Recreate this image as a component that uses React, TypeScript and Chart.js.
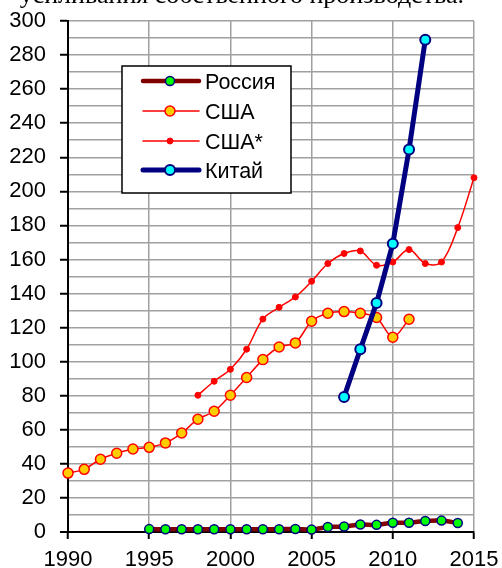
import React, { useEffect, useRef } from "react";
import { Chart, registerables } from "chart.js";

Chart.register(...registerables);

const russiaYears = [1995, 1996, 1997, 1998, 1999, 2000, 2001, 2002, 2003, 2004, 2005, 2006, 2007, 2008, 2009, 2010, 2011, 2012, 2013, 2014];
const russiaValues = [1.7, 1.6, 1.6, 1.6, 1.6, 1.6, 1.6, 1.6, 1.6, 1.8, 1.4, 3.0, 3.2, 4.4, 4.2, 5.4, 5.4, 6.5, 6.7, 5.3];

const usaYears = [1990, 1991, 1992, 1993, 1994, 1995, 1996, 1997, 1998, 1999, 2000, 2001, 2002, 2003, 2004, 2005, 2006, 2007, 2008, 2009, 2010, 2011];
const usaValues = [34.6, 36.8, 42.7, 46.2, 48.7, 49.7, 52.3, 58.1, 66.2, 70.9, 80.3, 90.7, 101.2, 108.6, 111, 123.7, 128.4, 129.4, 128.4, 125.9, 114.3, 124.9];

const usaStarYears = [1998, 1999, 2000, 2001, 2002, 2003, 2004, 2005, 2006, 2007, 2008, 2009, 2010, 2011, 2012, 2013, 2014, 2015];
const usaStarValues = [80.3, 88.5, 95.5, 107.3, 125, 131.9, 138, 147.2, 157.6, 163.5, 165, 156.6, 158.5, 165.8, 157.6, 158.5, 178.7, 208];

const chinaYears = [2007, 2008, 2009, 2010, 2011, 2012];
const chinaValues = [79.3, 107.3, 134.5, 169.3, 224.5, 289];

const seriesLabels = ["Россия", "США", "США*", "Китай"];
const xTickStep = 5;
const yTickStep = 10;
const yLabelStep = 20;

const titleText = "усиливания собственного производства.";

const FONT = "'Liberation Sans', Arial, sans-serif";

const toPoints = (xs: number[], ys: number[]) => xs.map((x, i) => ({ x, y: ys[i] }));

const legendPlugin = {
  id: "boxLegend",
  afterDraw(chart: any) {
    const ctx = chart.ctx as CanvasRenderingContext2D;
    ctx.save();
    const bx = 122, by = 66, bw = 169, bh = 127;
    ctx.fillStyle = "#ffffff";
    ctx.fillRect(bx, by, bw, bh);
    ctx.strokeStyle = "#000000";
    ctx.lineWidth = 1.5;
    ctx.strokeRect(bx, by, bw, bh);
    const rows = [81, 111, 141, 170];
    chart.data.datasets.forEach((ds: any, i: number) => {
      const y = rows[i];
      ctx.beginPath();
      ctx.strokeStyle = ds.borderColor;
      ctx.lineWidth = ds.borderWidth;
      ctx.lineCap = "round";
      ctx.moveTo(143, y);
      ctx.lineTo(199, y);
      ctx.stroke();
      ctx.beginPath();
      ctx.arc(170, y, ds.pointRadius, 0, Math.PI * 2);
      ctx.fillStyle = ds.pointBackgroundColor;
      ctx.fill();
      ctx.lineWidth = ds.pointBorderWidth;
      ctx.strokeStyle = ds.pointBorderColor;
      ctx.stroke();
      ctx.fillStyle = "#000";
      ctx.font = `21.5px ${FONT}`;
      ctx.textBaseline = "middle";
      ctx.textAlign = "left";
      ctx.fillText(ds.label, 205, y + 2);
    });
    ctx.restore();
  },
};

export default function App() {
  const ref = useRef<HTMLCanvasElement | null>(null);

  useEffect(() => {
    if (!ref.current) return;
    const chart = new Chart(ref.current, {
      type: "line",
      data: {
        datasets: [
          {
            label: seriesLabels[0],
            data: toPoints(russiaYears, russiaValues),
            borderColor: "#800000",
            borderWidth: 4.5,
            pointRadius: 4.5,
            pointBackgroundColor: "#00ff00",
            pointBorderColor: "#000080",
            pointBorderWidth: 1.5,
            tension: 0.3,
            order: 3,
            clip: false,
          },
          {
            label: seriesLabels[1],
            data: toPoints(usaYears, usaValues),
            borderColor: "#ff0000",
            borderWidth: 1.5,
            pointRadius: 5,
            pointBackgroundColor: "#ffcc00",
            pointBorderColor: "#ff0000",
            pointBorderWidth: 1.5,
            tension: 0.3,
            order: 2,
            clip: false,
          },
          {
            label: seriesLabels[2],
            data: toPoints(usaStarYears, usaStarValues),
            borderColor: "#ff0000",
            borderWidth: 1.5,
            pointRadius: 3,
            pointBackgroundColor: "#ff0000",
            pointBorderColor: "#ff0000",
            pointBorderWidth: 1,
            tension: 0.35,
            order: 1,
            clip: false,
          },
          {
            label: seriesLabels[3],
            data: toPoints(chinaYears, chinaValues),
            borderColor: "#000080",
            borderWidth: 5,
            pointRadius: 5,
            pointBackgroundColor: "#00ffff",
            pointBorderColor: "#000080",
            pointBorderWidth: 2,
            tension: 0,
            order: 0,
            clip: false,
          },
        ] as any,
      },
      options: {
        animation: false,
        responsive: false,
        devicePixelRatio: 1,
        layout: { padding: { top: 21, right: 28, left: 0, bottom: 0 } },
        plugins: {
          legend: { display: false },
          tooltip: { enabled: false },
        },
        scales: {
          x: {
            type: "linear",
            min: 1990,
            max: 2015,
            afterFit: (s: any) => {
              s.height = 36;
              s.paddingLeft = 0;
              s.paddingRight = 0;
            },
            ticks: {
              stepSize: xTickStep,
              color: "#000",
              font: { family: FONT, size: 22 },
              padding: 8,
              maxRotation: 0,
              autoSkip: false,
              callback: (v: any) => String(v),
            },
            grid: {
              color: "#a0a0a0",
              lineWidth: 1.5,
              tickLength: 7,
              tickColor: "#000",
              tickWidth: 2,
            },
            border: { color: "#000", width: 2 },
          },
          y: {
            type: "linear",
            min: 0,
            max: 300,
            afterFit: (s: any) => {
              s.width = 68;
              s.paddingTop = 0;
              s.paddingBottom = 0;
            },
            ticks: {
              stepSize: yTickStep,
              color: "#000",
              font: { family: FONT, size: 22 },
              padding: 14,
              autoSkip: false,
              callback: (v: any) => (Number(v) % yLabelStep === 0 ? String(v) : ""),
            },
            grid: {
              color: (c: any) => (c.tick && c.tick.value === 0 ? "#000" : "#a0a0a0"),
              lineWidth: (c: any) => (c.tick && c.tick.value === 0 ? 2 : 1.5),
              tickLength: 8,
              tickWidth: 2,
              tickColor: (c: any) =>
                c.tick && c.tick.value % yLabelStep === 0 ? "#000" : "rgba(0,0,0,0)",
            },
            border: { color: "#000", width: 2 },
          },
        },
      },
      plugins: [legendPlugin],
    });
    return () => chart.destroy();
  }, []);

  return (
    <div style={{ position: "absolute", left: 0, top: 0, width: 502, height: 568, background: "#fff", overflow: "hidden" }}>
      <canvas ref={ref} width={502} height={568} style={{ position: "absolute", left: 0, top: 0 }} />
      <div style={{ position: "absolute", left: 0, top: 0, width: 502, height: 9, overflow: "hidden" }}>
        <div
          style={{
            position: "absolute",
            top: -18,
            right: 38,
            whiteSpace: "nowrap",
            fontFamily: "'Liberation Serif', 'Times New Roman', serif",
            fontSize: 26,
            lineHeight: "26px",
            color: "#000",
          }}
        >
          {titleText}
        </div>
      </div>
    </div>
  );
}
